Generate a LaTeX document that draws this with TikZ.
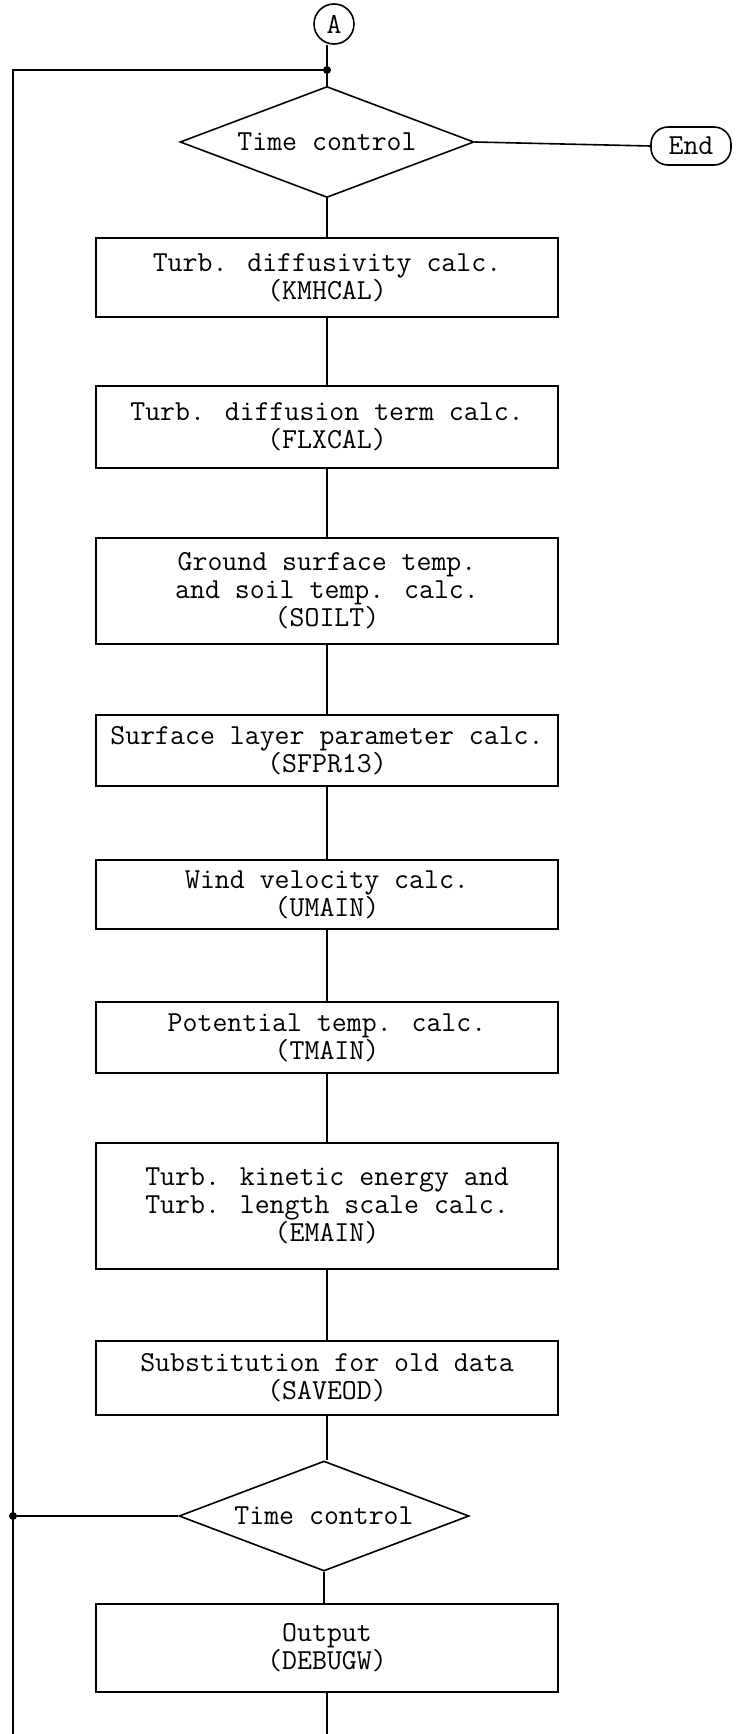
\documentclass[tikz,border=0pt]{standalone}
\usepackage{fontspec}
\usetikzlibrary{shapes.geometric}
\begin{document}
\begin{tikzpicture}[x=1pt,y=-1pt,
  every node/.style={font=\ttfamily\fontsize{29}{28}\selectfont},
  ln/.style={line width=1.6pt},
  proc/.style={ln,draw,rectangle,minimum width=462pt,align=center,inner sep=4pt},
  dec/.style={ln,draw,diamond,shape aspect=2.65,minimum width=294pt,minimum height=111pt,inner sep=0pt},
  term/.style={ln,draw,rectangle,rounded corners=17pt,minimum width=80pt,minimum height=38pt,inner sep=2pt},
  conn/.style={ln,draw,circle,minimum size=40pt,inner sep=0pt},
  dotn/.style={circle,fill,inner sep=0pt,minimum size=8pt}]
\useasboundingbox (0,0) rectangle (738,1734);
\node[conn] (A) at (334,24) {A};
\node[dotn] (d1) at (327,70) {};
\node[dec] (tc1) at (327,142) {Time control};
\node[term] (end) at (691,146) {End};
\node[proc,minimum height=79pt] (b1) at (327,277.5) {Turb. diffusivity calc.\\(KMHCAL)};
\node[proc,minimum height=82pt] (b2) at (327,427) {Turb. diffusion term calc.\\(FLXCAL)};
\node[proc,minimum height=106pt] (b3) at (327,591) {Ground surface temp.\\and soil temp. calc.\\(SOILT)};
\node[proc,minimum height=71pt] (b4) at (327,750.5) {Surface layer parameter calc.\\(SFPR13)};
\node[proc,minimum height=69pt] (b5) at (327,894.5) {Wind velocity calc.\\(UMAIN)};
\node[proc,minimum height=71pt] (b6) at (327,1037.5) {Potential temp. calc.\\(TMAIN)};
\node[proc,minimum height=126pt] (b7) at (327,1206) {Turb. kinetic energy and\\Turb. length scale calc.\\(EMAIN)};
\node[proc,minimum height=74pt] (b8) at (327,1378) {Substitution for old data\\(SAVEOD)};
\node[dec,minimum width=290pt,minimum height=110pt] (tc2) at (324,1516) {Time control};
\node[proc,minimum height=88pt] (out) at (327,1648) {Output\\(DEBUGW)};
\node[dotn] (d2) at (13,1516) {};
\coordinate (ltop) at (13,70);
\coordinate (lbot) at (13,1734);
\coordinate (bot) at (327,1734);
\draw[ln] (d1) -- (d1 |- A.south);
\draw[ln] (d1) -- (tc1.north);
\draw[ln] (tc1.east) -- (end.west);
\draw[ln] (tc1.south) -- (b1.north);
\draw[ln] (b1) -- (b2);
\draw[ln] (b2) -- (b3);
\draw[ln] (b3) -- (b4);
\draw[ln] (b4) -- (b5);
\draw[ln] (b5) -- (b6);
\draw[ln] (b6) -- (b7);
\draw[ln] (b7) -- (b8);
\draw[ln] (b8.south) -- (b8.south |- tc2.north);
\draw[ln] (tc2.south) -- (tc2.south |- out.north);
\draw[ln] (out.south) -- (bot);
\draw[ln] (tc2.west) -- (d2);
\draw[ln] (lbot) -- (ltop) -- (d1);
\end{tikzpicture}
\end{document}
